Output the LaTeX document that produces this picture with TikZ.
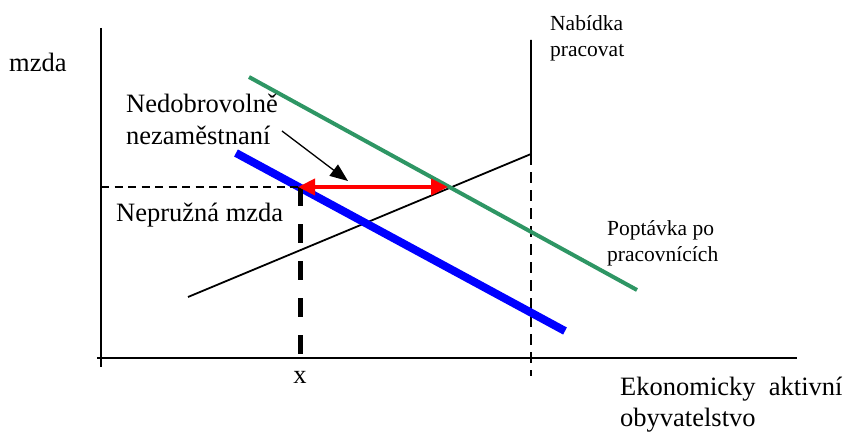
\documentclass[tikz,border=0pt]{standalone}
\usepackage{fontspec}
\setmainfont{Liberation Serif}
\usetikzlibrary{arrows.meta}
\definecolor{dgreen}{RGB}{46,150,100}
\definecolor{dblue}{RGB}{0,0,255}
\definecolor{dred}{RGB}{255,0,0}
\tikzset{
  big/.style={font=\fontsize{26.5}{31}\selectfont, inner sep=0pt, align=left},
  small/.style={font=\fontsize{21.5}{26.5}\selectfont, inner sep=0pt, align=left},
  axis/.style={line width=1.8pt},
  thindash/.style={line width=1.3pt, dash pattern=on 8pt off 5.5pt},
  vdash/.style={line width=1.3pt, dash pattern=on 11pt off 7pt},
  thickdash/.style={line width=5pt, dash pattern=on 19pt off 18pt},
}
\begin{document}
\begin{tikzpicture}[x=1pt,y=-1pt]
\useasboundingbox (0,0) rectangle (843,433);
% axes
\coordinate (yt) at (101,28);
\coordinate (yb) at (101,367);
\coordinate (xl) at (97,358);
\coordinate (xr) at (797,358);
\draw[axis] (yt) -- (yb);
\draw[axis] (xl) -- (xr);
% supply
\coordinate (s0) at (188,297);
\coordinate (sk) at (531,154);
\coordinate (stop) at (531,40);
\coordinate (sbot) at (531,376);
\draw[line width=1.8pt] (s0) -- (sk) -- (stop);
\draw[vdash] (sk) -- (sbot);
% demand curves
\coordinate (g0) at (249,77);
\coordinate (g1) at (637,290);
\draw[dgreen, line width=4pt] (g0) -- (g1);
\coordinate (b0) at (236,153);
\coordinate (b1) at (565,331);
\draw[dblue, line width=8pt] (b0) -- (b1);
% wage line
\coordinate (wl) at (101,187);
\coordinate (wp) at (298,187);
\coordinate (wr) at (448,187);
\coordinate (xx) at (300,358);
\coordinate (xt) at (300,187);
\draw[thindash] (wl) -- (wp);
\draw[thickdash] (xt) -- (xx);
\draw[dred, line width=4pt, {Triangle[length=17pt,width=16pt]}-{Triangle[length=17pt,width=16pt]}] (wp) -- (wr);
% labels
\node[big, anchor=base west] (mzda) at (9,72) {mzda};
\node[big, anchor=north west, font=\fontsize{26.5}{32}\selectfont] (nedo) at (126,94) {Nedobrovolně\\nezaměstnaní};
\coordinate (arrS) at (282,131);
\coordinate (arrE) at (348,181);
\draw[line width=1.3pt, -{Triangle[length=18pt,width=14pt]}] (arrS) -- (arrE);
\node[big, anchor=base west] (nepr) at (116,221) {Nepružná mzda};
\node[big, anchor=base] (xlab) at (300,383) {x};
\node[small, anchor=north west] (nab) at (550,15) {Nabídka\\pracovat};
\node[small, anchor=north west] (popt) at (607,220) {Poptávka po\\pracovnících};
\node[big, anchor=north west] (eko) at (620,377) {Ekonomicky\ \ aktivní\\obyvatelstvo};
\end{tikzpicture}
\end{document}
